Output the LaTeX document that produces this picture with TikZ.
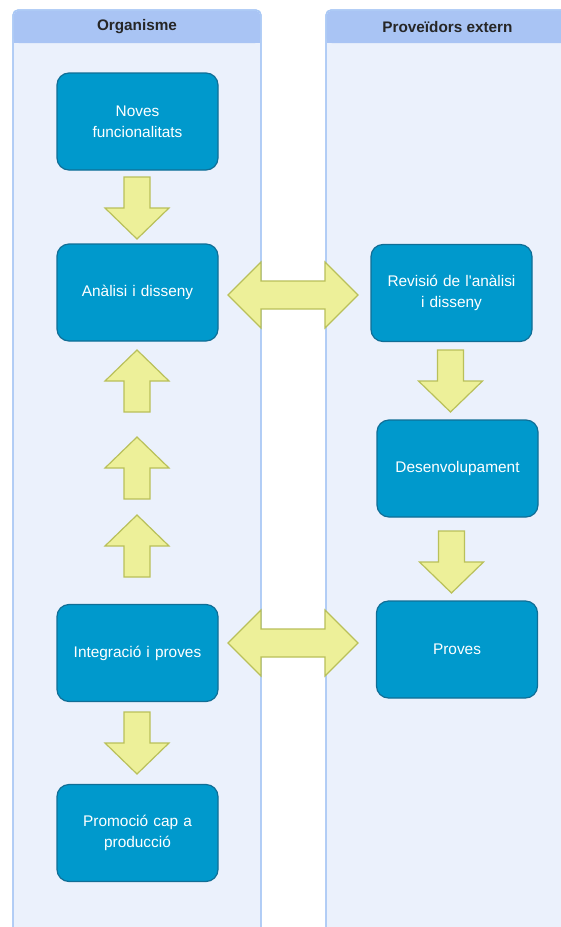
\documentclass[tikz,border=0pt]{standalone}
\usepackage{fontspec}
\setmainfont{Liberation Sans}
\definecolor{lanefill}{RGB}{235,241,252}
\definecolor{laneline}{RGB}{169,200,245}
\definecolor{headfill}{RGB}{169,196,244}
\definecolor{boxfill}{RGB}{0,153,204}
\definecolor{boxline}{RGB}{16,110,150}
\definecolor{arrfill}{RGB}{237,240,153}
\definecolor{arrline}{RGB}{185,192,90}
\tikzset{
  procbox/.style={draw=boxline, fill=boxfill, line width=1.2pt, rounded corners=12pt,
    minimum width=161pt, minimum height=97pt, text=white, align=center,
    font=\fontsize{15.4}{21}\selectfont, inner sep=0pt, text width=150pt},
  headtext/.style={font=\bfseries\fontsize{15.3}{18}\selectfont, text=black!85},
  blockarrow/.style={draw=arrline, fill=arrfill, line width=1.2pt, line join=miter},
  lanebox/.style={draw=laneline, fill=lanefill, line width=1.2pt, rounded corners=5pt},
  blockdown/.pic={\path[blockarrow] (-13,0) -- (13,0) -- (13,31) -- (32,31) -- (0,62) -- (-32,31) -- (-13,31) -- cycle;},
  blockup/.pic={\path[blockarrow] (0,0) -- (32,31) -- (13,31) -- (13,62) -- (-13,62) -- (-13,31) -- (-32,31) -- cycle;},
  blockboth/.pic={\path[blockarrow] (0,0) -- (33,-33) -- (33,-14) -- (97,-14) -- (97,-33) -- (130,0) -- (97,33) -- (97,14) -- (33,14) -- (33,33) -- cycle;}
}
\begin{document}
\begin{tikzpicture}[x=1pt,y=-1pt]
\useasboundingbox (0,0) rectangle (561,927);
\fill[white] (0,0) rectangle (561,927);
% lanes
\path[lanebox] (13,940) -- (13,10) -- (261,10) -- (261,940);
\fill[headfill, rounded corners=5pt] (13.6,10.6) rectangle (260.4,43);
\fill[headfill] (13.6,30) rectangle (260.4,43);
\draw[laneline, line width=1.2pt, rounded corners=5pt] (13,940) -- (13,10) -- (261,10) -- (261,940);
\path[lanebox] (326,940) -- (326,10) -- (580,10) -- (580,940);
\fill[headfill, rounded corners=5pt] (326.6,10.6) rectangle (579.4,43);
\fill[headfill] (326.6,30) rectangle (579.4,43);
\draw[laneline, line width=1.2pt, rounded corners=5pt] (326,940) -- (326,10) -- (580,10) -- (580,940);
\node[headtext] (hl) at (137,27) {Organisme};
\node[headtext] (hr) at (447.5,27) {Proveïdors extern};
% boxes
\node[procbox] (noves) at (137.5,121.5) {Noves\\funcionalitats};
\node[procbox] (anal) at (137.5,292.5) {Anàlisi i disseny};
\node[procbox] (integ) at (137.5,653) {Integració i proves};
\node[procbox] (promo) at (137.5,833) {Promoció cap a\\producció};
\node[procbox] (revis) at (451.5,293) {Revisió de l\textquotesingle anàlisi\\i disseny};
\node[procbox] (desen) at (457.5,468.5) {Desenvolupament};
\node[procbox] (prov) at (457,649.5) {Proves};
% block arrows
\pic at (137,177) {blockdown};
\pic at (137,350) {blockup};
\pic at (137,437) {blockup};
\pic at (137,515) {blockup};
\pic at (137,712) {blockdown};
\pic at (450.5,350) {blockdown};
\pic at (451.5,531) {blockdown};
\pic at (228,295) {blockboth};
\pic at (228,643) {blockboth};
\end{tikzpicture}
\end{document}
